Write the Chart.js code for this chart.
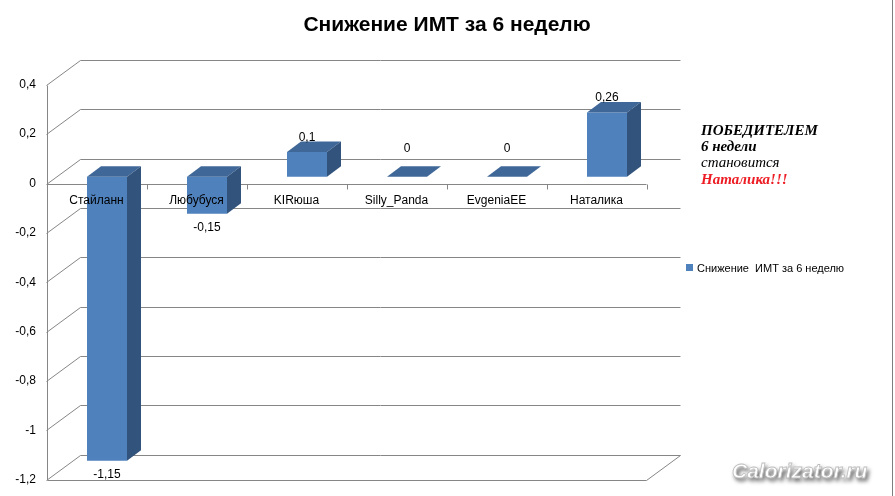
<!DOCTYPE html>
<html lang="ru">
<head>
<meta charset="utf-8">
<title>Снижение ИМТ за 6 неделю</title>
<script src="https://cdn.jsdelivr.net/npm/chart.js@4"></script>
<style>
  html, body { margin: 0; padding: 0; background: #fff; }
  canvas { display: block; }
</style>
</head>
<body>
<canvas id="chart" width="895" height="496"></canvas>
<script>
const chartTitle = 'Снижение ИМТ за 6 неделю'
const seriesName = 'Снижение  ИМТ за 6 неделю'
const names = ['Стайланн', 'Любубуся', 'KIRюша', 'Silly_Panda', 'EvgeniaEE', 'Наталика']
const imtDrop = [-1.15, -0.15, 0.1, 0, 0, 0.26]
const yTickValues = [0.4, 0.2, 0, -0.2, -0.4, -0.6, -0.8, -1, -1.2]
const winnerLines = ['ПОБЕДИТЕЛЕМ', '6 недели', 'становится', 'Наталика!!!']

// 3d look: bars sit in a middle plane, axes in front, grid at the back
const FRONT = { dx: -10.5, dy: 6.75 }
const BACK = { dx: 23.5, dy: -18.25 }
const DEPTH = { dx: 14, dy: -10.5 }
const gridColor = '#868686'
const barFront = '#4F81BD'
const barTop = '#3F6899'
const barSide = '#32537C'
const sans = '"Liberation Sans", Arial, sans-serif'

const comma = v => String(Math.round(v * 100) / 100).replace('.', ',')
const crisp = v => Math.round(v) + 0.5

function poly(ctx, pts) {
    ctx.beginPath()
    ctx.moveTo(pts[0][0], pts[0][1])
    pts.slice(1).forEach(p => ctx.lineTo(p[0], p[1]))
    ctx.closePath()
    ctx.fill()
}

function noPad(s) {
    s.paddingTop = 0
    s.paddingBottom = 0
    s.paddingLeft = 0
    s.paddingRight = 0
}

const chart3d = {
    id: 'chart3d',
    beforeDraw(chart) {
        const { ctx, width, height } = chart
        ctx.save()
        ctx.fillStyle = '#fff'
        ctx.fillRect(0, 0, width, height)
        ctx.restore()
    },
    beforeDatasetsDraw(chart) {
        const { ctx, chartArea: a, scales: { y } } = chart
        const L = a.left, R = a.right
        ctx.save()
        ctx.strokeStyle = gridColor
        ctx.lineWidth = 1
        ctx.beginPath()
        yTickValues.forEach(v => {
            const py = y.getPixelForValue(v)
            ctx.moveTo(L + FRONT.dx, crisp(py + FRONT.dy))
            ctx.lineTo(L + BACK.dx, crisp(py + BACK.dy))
            ctx.lineTo(R + BACK.dx, crisp(py + BACK.dy))
        })
        const top = y.getPixelForValue(y.max) + FRONT.dy
        const bot = y.getPixelForValue(y.min) + FRONT.dy
        const fx = crisp(L + FRONT.dx)
        ctx.moveTo(fx, crisp(top))
        ctx.lineTo(fx, crisp(bot))
        // floor front edge
        ctx.moveTo(fx, crisp(bot))
        ctx.lineTo(R + FRONT.dx, crisp(bot))
        ctx.lineTo(R + BACK.dx, crisp(y.getPixelForValue(y.min) + BACK.dy))
        // category axis crossing at 0
        const zero = crisp(y.getPixelForValue(0) + FRONT.dy)
        ctx.moveTo(fx, zero)
        ctx.lineTo(R + FRONT.dx, zero)
        const step = (R - L) / names.length
        for (let i = 1; i <= names.length; i++) {
            const tx = crisp(L + step * i + FRONT.dx)
            ctx.moveTo(tx, zero)
            ctx.lineTo(tx, zero + 5)
        }
        ctx.stroke()
        ctx.restore()
    },
    afterDatasetsDraw(chart) {
        const { ctx } = chart
        ctx.save()
        chart.getDatasetMeta(0).data.forEach(bar => {
            const l = bar.x - bar.width / 2, r = bar.x + bar.width / 2
            const t = Math.min(bar.y, bar.base), b = Math.max(bar.y, bar.base)
            ctx.fillStyle = barTop
            poly(ctx, [[l, t], [r, t], [r + DEPTH.dx, t + DEPTH.dy], [l + DEPTH.dx, t + DEPTH.dy]])
            ctx.fillStyle = barSide
            poly(ctx, [[r, t], [r + DEPTH.dx, t + DEPTH.dy], [r + DEPTH.dx, b + DEPTH.dy], [r, b]])
        })
        ctx.restore()
    },
    afterDraw(chart) {
        const { ctx, scales: { y } } = chart
        ctx.save()
        // value labels
        ctx.font = '12px ' + sans
        ctx.fillStyle = '#000'
        ctx.textAlign = 'center'
        ctx.textBaseline = 'middle'
        const zero = y.getPixelForValue(0)
        chart.getDatasetMeta(0).data.forEach((bar, i) => {
            const v = imtDrop[i]
            const ly = v < 0 ? bar.y + 14 : Math.min(bar.y - 14.5, zero - 28)
            ctx.fillText(comma(v), bar.x, ly)
        })

        // title
        ctx.font = 'bold 21px ' + sans
        ctx.fillText(chartTitle, 447, 25)

        // legend
        ctx.fillStyle = barFront
        ctx.fillRect(686, 264, 7, 7)
        ctx.fillStyle = '#000'
        ctx.textAlign = 'left'
        ctx.font = '11px ' + sans
        ctx.fillText(seriesName, 697, 268.5)

        // winner note
        const serif = '"Liberation Serif", "Times New Roman", serif'
        const fonts = ['italic bold 15px ', 'italic bold 15px ', 'italic 15px ', 'italic bold 15px ']
        const colors = ['#000', '#000', '#000', '#ED1C24']
        const ys = [131, 147, 163, 180]
        winnerLines.forEach((t, i) => {
            ctx.font = fonts[i] + serif
            ctx.fillStyle = colors[i]
            ctx.fillText(t, 701, ys[i])
        })

        // watermark
        ctx.font = 'italic bold 21px ' + sans
        ctx.shadowColor = 'rgba(0,0,0,0.8)'
        ctx.shadowBlur = 4
        ctx.shadowOffsetX = 2
        ctx.shadowOffsetY = 3
        ctx.fillStyle = '#fff'
        ctx.fillText('Calorizator.ru', 732, 472)
        ctx.shadowColor = 'transparent'
        ctx.strokeStyle = '#BDBDBD'
        ctx.lineWidth = 0.8
        ctx.strokeText('Calorizator.ru', 732, 472)

        // frame edge
        ctx.strokeStyle = '#7F7F7F'
        ctx.lineWidth = 1
        ctx.beginPath()
        ctx.moveTo(892.5, 0)
        ctx.lineTo(892.5, 496)
        ctx.stroke()
        ctx.restore()
    }
}

new Chart(document.getElementById('chart'), {
    type: 'bar',
    data: {
        labels: names,
        datasets: [{
            label: seriesName,
            data: imtDrop,
            backgroundColor: barFront,
            borderWidth: 0,
            barPercentage: 0.4,
            categoryPercentage: 1
        }]
    },
    options: {
        responsive: false,
        animation: false,
        devicePixelRatio: 1,
        events: [],
        layout: { padding: { top: 78, bottom: 23, left: 0, right: 238 } },
        plugins: {
            legend: { display: false },
            title: { display: false },
            tooltip: { enabled: false }
        },
        scales: {
            x: {
                position: { y: 0 },
                grid: { display: false, drawTicks: false },
                border: { display: false },
                afterFit: s => { s.height = 0; noPad(s) },
                ticks: {
                    z: 1,
                    padding: 17,
                    labelOffset: FRONT.dx,
                    maxRotation: 0,
                    autoSkip: false,
                    color: '#000',
                    font: { family: sans, size: 12 }
                }
            },
            y: {
                min: yTickValues[yTickValues.length - 1],
                max: yTickValues[0],
                grid: { display: false, drawTicks: false },
                border: { display: false },
                afterFit: s => { s.width = 57; noPad(s) },
                afterBuildTicks: s => { s.ticks = yTickValues.map(v => ({ value: v })) },
                ticks: {
                    padding: 21,
                    labelOffset: FRONT.dy,
                    color: '#000',
                    font: { family: sans, size: 12 },
                    callback: v => comma(v)
                }
            }
        }
    },
    plugins: [chart3d]
})
</script>
</body>
</html>
